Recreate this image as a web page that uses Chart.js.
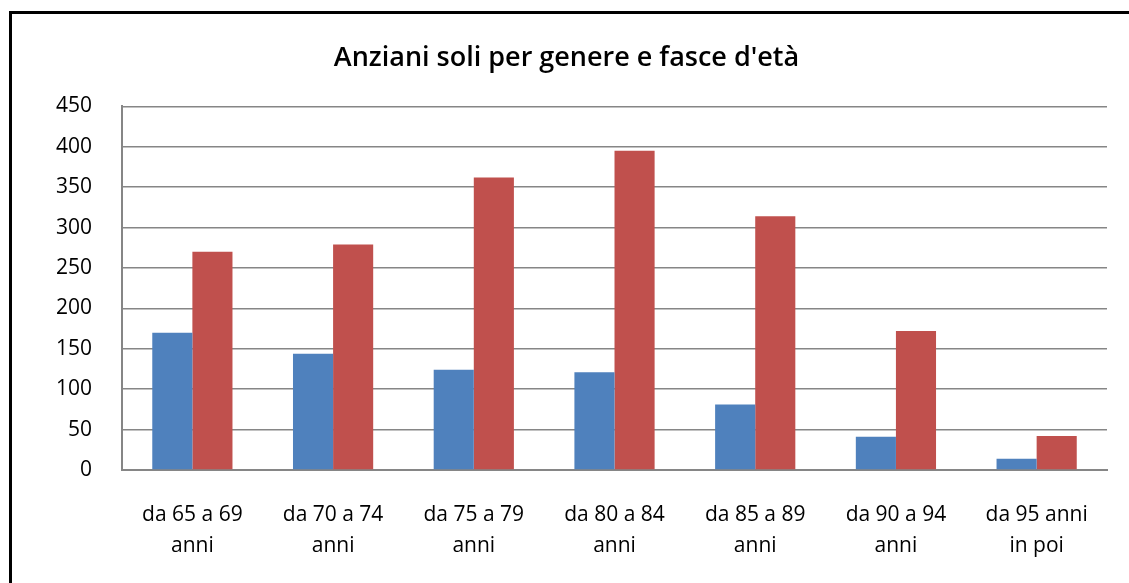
<!DOCTYPE html>
<html>
<head>
<meta charset="utf-8">
<script src="https://cdn.jsdelivr.net/npm/chart.js@4"></script>
<style>
  body { margin: 0; background: #fff; overflow: hidden; }
  #frame {
    position: absolute; left: 9px; top: 11px; width: 1130px; height: 590px;
    border: 3px solid #000; box-sizing: border-box;
  }
  #myChart { position: absolute; left: 0; top: 0; }
</style>
</head>
<body>
<div id="frame"></div>
<canvas id="myChart" width="1129" height="583"></canvas>
<script>
let categories = [
  ["da 65 a 69", "anni"],
  ["da 70 a 74", "anni"],
  ["da 75 a 79", "anni"],
  ["da 80 a 84", "anni"],
  ["da 85 a 89", "anni"],
  ["da 90 a 94", "anni"],
  ["da 95 anni", "in poi"]
];
let maschi = [170, 144, 124, 121, 81, 41, 14];
let femmine = [270, 279, 362, 395, 314, 172, 42];
let yTicks = [0, 50, 100, 150, 200, 250, 300, 350, 400, 450];

const font = "'Open Sans', 'Noto Sans', sans-serif";

const ctx = document.getElementById('myChart');

new Chart(ctx, {
  type: 'bar',
  data: {
    labels: categories,
    datasets: [
      { label: 'Maschi', data: maschi, backgroundColor: '#4f81bd' },
      { label: 'Femmine', data: femmine, backgroundColor: '#c0504d' }
    ]
  },
  options: {
    responsive: false,
    animation: false,
    layout: { padding: { left: 26, right: 22, top: 20, bottom: 0 } },
    datasets: { bar: { categoryPercentage: 0.57, barPercentage: 1 } },
    plugins: {
      legend: { display: false },
      tooltip: { enabled: false },
      title: {
        display: true,
        text: "Anziani soli per genere e fasce d'età",
        color: '#000',
        font: { family: font, size: 27, weight: '600' },
        padding: { top: 22, bottom: 32 }
      }
    },
    scales: {
      x: {
        grid: { display: false },
        border: { color: '#868686', width: 2 },
        ticks: {
          color: '#000',
          font: { family: font, size: 21, lineHeight: 1.5 },
          maxRotation: 0,
          autoSkip: false,
          padding: 21
        }
      },
      y: {
        min: 0,
        max: 450,
        afterBuildTicks: axis => { axis.ticks = yTicks.map(v => ({ value: v })); },
        grid: { color: '#868686', lineWidth: 1.5, drawTicks: false },
        border: { color: '#868686', width: 2 },
        ticks: {
          color: '#000',
          font: { family: font, size: 21 },
          padding: 30
        }
      }
    }
  }
});
</script>
</body>
</html>
